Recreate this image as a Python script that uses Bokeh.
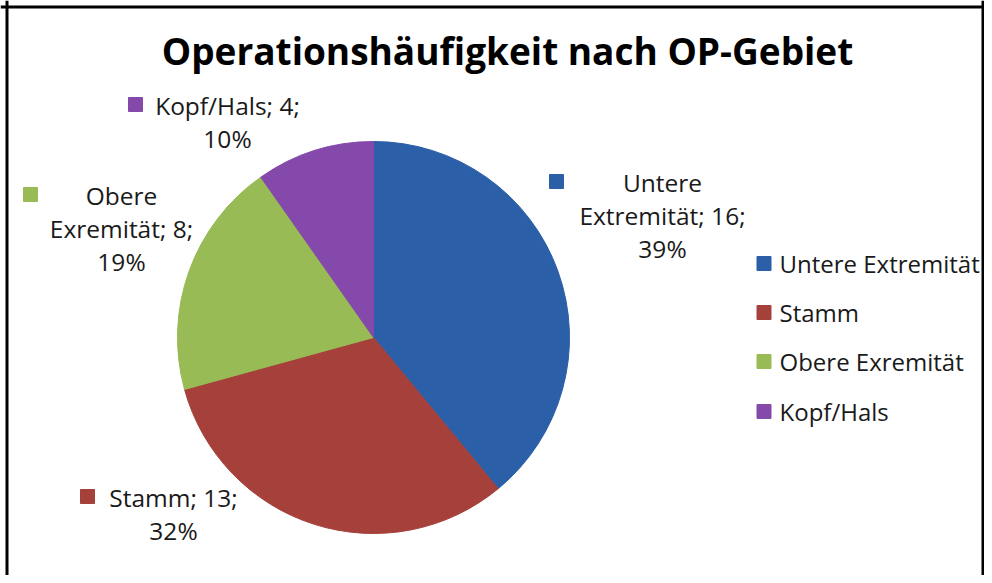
import numpy as np
from bokeh.plotting import figure
from bokeh.models import Span, ColumnDataSource
from bokeh.core.properties import value
from bokeh.embed import file_html
from bokeh.resources import INLINE

# ---- data ----
title_text = "Operationshäufigkeit nach OP-Gebiet"
categories = ["Untere Extremität", "Stamm", "Obere Exremität", "Kopf/Hals"]
counts = [16, 13, 8, 4]
pct_labels = ["39%", "32%", "19%", "10%"]
colors = ["#2B5FA8", "#A5403B", "#98BB55", "#8449AA"]

# ---- layout ----
W, H = 984, 575
FONT = "Open Sans"
LABEL_SIZE = "24.5px"
LEGEND_SIZE = "24px"


def X(px):
    return px


def Y(py):
    return H - py


p = figure(width=W, height=H, x_range=(0, W), y_range=(0, H),
           output_backend="svg", toolbar_location=None, min_border=0)
p.axis.visible = False
p.grid.visible = False
p.outline_line_color = None
p.background_fill_color = "white"
p.border_fill_color = "white"

# frame (left, right, top)
for loc in [6.5, 982.5]:
    p.add_layout(Span(location=loc, dimension="height", line_color="black", line_width=3))
p.add_layout(Span(location=Y(6.5), dimension="width", line_color="black", line_width=3))

# pie
total = float(sum(counts))
frac = np.array(counts) / total
cum = np.concatenate([[0.0], np.cumsum(frac)])
start = np.pi / 2 - cum[:-1] * 2 * np.pi
end = np.pi / 2 - cum[1:] * 2 * np.pi
cx, cy, r = X(373), Y(337), 196
src = ColumnDataSource(dict(start=start, end=end, color=colors, cat=categories))
p.wedge(x=cx, y=cy, radius=r, start_angle="start", end_angle="end",
        direction="clock", fill_color="color", line_color="color",
        line_width=1, source=src)

# title
p.text(x=[X(507)], y=[Y(50)], text=[title_text], text_font=value(FONT),
       text_font_style="bold", text_font_size="37px", text_align="center",
       text_baseline="middle", text_color="black")

# data labels: (square centre, text centre x, first line y) in page pixels
label_layout = [
    ((556, 181), 662, 182),
    ((87, 496), 173, 497),
    ((30, 194), 121, 195),
    ((135, 104), 227, 105),
]
LINE = 33
for i, ((sx, sy), tx, ty) in enumerate(label_layout):
    words = categories[i].split(" ")
    lines = words[:-1] + [f"{words[-1]}; {counts[i]};", pct_labels[i]]
    p.rect(x=[X(sx)], y=[Y(sy)], width=14, height=14,
           fill_color=colors[i], line_color=colors[i])
    p.text(x=[X(tx)] * len(lines), y=[Y(ty + k * LINE) for k in range(len(lines))],
           text=lines, text_font=value(FONT), text_font_size=LABEL_SIZE,
           text_align="center", text_baseline="middle", text_color="#1a1a1a")

# legend
legend_y = [263, 312, 361, 411]
for i, cat in enumerate(categories):
    p.rect(x=[X(763.5)], y=[Y(legend_y[i])], width=14, height=14,
           fill_color=colors[i], line_color=colors[i])
    p.text(x=[X(779)], y=[Y(legend_y[i])], text=[cat], text_font=value(FONT),
           text_font_size=LEGEND_SIZE, text_align="left", text_baseline="middle",
           text_color="#1a1a1a")

open("out.html", "w").write(file_html(p, INLINE))
